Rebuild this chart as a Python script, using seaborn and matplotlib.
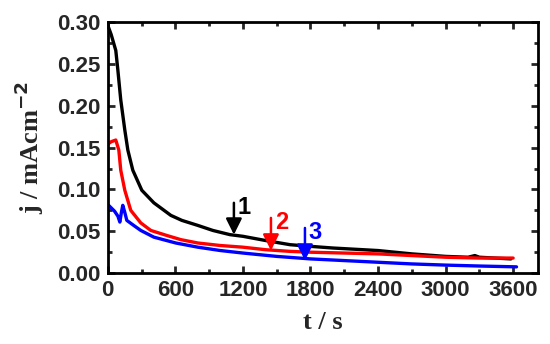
import numpy as np
import pandas as pd
import matplotlib
matplotlib.use("Agg")
import matplotlib.pyplot as plt
from matplotlib.ticker import MultipleLocator
import seaborn as sns

# ── Données ─────────────────────────────────────────────────────────────────
t1 = [0, 30, 71, 89, 115, 151, 178, 222, 302, 409, 560, 658, 800, 933, 1084,
      1200, 1400, 1618, 1800, 2000, 2400, 2700, 3000, 3200, 3260, 3300, 3580]
j1 = [0.296, 0.285, 0.266, 0.243, 0.207, 0.171, 0.147, 0.123, 0.099, 0.084,
      0.069, 0.063, 0.057, 0.051, 0.046, 0.044, 0.039, 0.034, 0.032, 0.030,
      0.027, 0.023, 0.020, 0.019, 0.021, 0.019, 0.017]

t2 = [0, 30, 71, 98, 115, 151, 204, 293, 382, 524, 649, 800, 1000, 1200,
      1400, 1618, 1800, 2100, 2400, 2700, 3000, 3300, 3600]
j2 = [0.154, 0.157, 0.159, 0.147, 0.123, 0.099, 0.075, 0.060, 0.051, 0.045,
      0.040, 0.036, 0.033, 0.031, 0.028, 0.026, 0.025, 0.024, 0.023, 0.021,
      0.019, 0.018, 0.018]

t3 = [0, 30, 60, 90, 107, 120, 133, 150, 169, 230, 293, 409, 604, 800, 1000,
      1200, 1500, 1800, 2100, 2400, 2700, 3000, 3300, 3630]
j3 = [0.082, 0.078, 0.074, 0.068, 0.061, 0.072, 0.081, 0.073, 0.063, 0.057,
      0.051, 0.043, 0.036, 0.031, 0.027, 0.024, 0.020, 0.017, 0.015, 0.013,
      0.011, 0.0096, 0.0085, 0.0075]

labels = ["1", "2", "3"]
colors = ["black", "red", "blue"]
# flèches : position t, j du haut, j de la pointe
arrow_t = [1120, 1449, 1751]
arrow_top = [0.084, 0.066, 0.054]
arrow_tip = [0.046, 0.027, 0.015]

df = pd.concat([
    pd.DataFrame({"t": t1, "j": j1, "courbe": "1"}),
    pd.DataFrame({"t": t2, "j": j2, "courbe": "2"}),
    pd.DataFrame({"t": t3, "j": j3, "courbe": "3"}),
])

# ── Figure ───────────────────────────────────────────────────────────────────
sns.set_style("ticks")
plt.rcParams["font.family"] = ["Liberation Sans", "DejaVu Sans"]

fig = plt.figure(figsize=(5.5, 3.44), dpi=100)
ax = fig.add_axes([0.196, 0.206, 0.782, 0.730])

sns.lineplot(data=df, x="t", y="j", hue="courbe", palette=colors,
             estimator=None, sort=False, lw=2.4, legend=False, ax=ax)

for lab, c, x, y0, y1 in zip(labels, colors, arrow_t, arrow_top, arrow_tip):
    ax.annotate("", xy=(x, y1), xytext=(x, y0),
                arrowprops=dict(arrowstyle="-|>,head_width=0.4,head_length=0.8",
                                color=c, lw=1.8, mutation_scale=12,
                                shrinkA=0, shrinkB=0))
    ax.text(x + 35, y0 - 0.005, lab, color=c, fontsize=17, fontweight="bold",
            ha="left", va="center")

ax.set_xlim(0, 3820)
ax.set_ylim(0, 0.30)
ax.xaxis.set_major_locator(MultipleLocator(600))
ax.xaxis.set_minor_locator(MultipleLocator(300))
ax.yaxis.set_major_locator(MultipleLocator(0.05))
ax.yaxis.set_minor_locator(MultipleLocator(0.025))
ax.yaxis.set_major_formatter(plt.FormatStrFormatter("%.2f"))

ax.tick_params(which="both", direction="in", top=True, right=True, width=2,
               labelsize=16)
ax.tick_params(which="major", length=5, pad=5)
ax.tick_params(which="minor", length=3)
for lbl in ax.get_xticklabels() + ax.get_yticklabels():
    lbl.set_fontweight("bold")
for s in ax.spines.values():
    s.set_linewidth(2)
    s.set_color("black")

ax.set_xlabel("t / s", family="Liberation Serif", fontweight="bold",
              fontsize=19, labelpad=7)
ax.set_ylabel(r"j / mAcm$^{\mathbf{-2}}$", family="Liberation Serif",
              fontweight="bold", fontsize=19, labelpad=8)

fig.savefig("out.png", dpi=100)
